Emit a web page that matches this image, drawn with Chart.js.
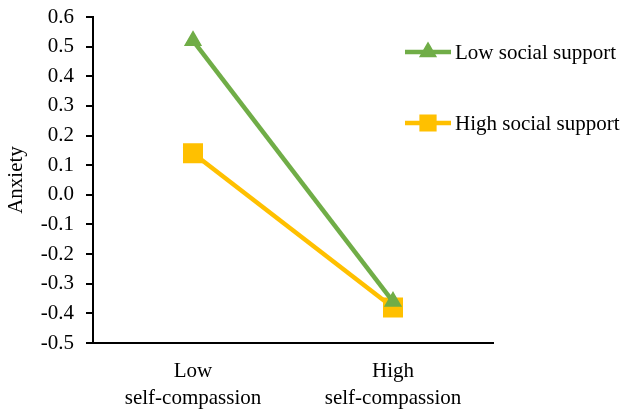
<!DOCTYPE html>
<html>
<head>
<meta charset="utf-8">
<script src="https://cdn.jsdelivr.net/npm/chart.js@4"></script>
<style>
  html, body { margin: 0; padding: 0; background: #fff; }
  #wrap { width: 628px; height: 411px; }
</style>
</head>
<body>
<div id="wrap"><canvas id="chart"></canvas></div>
<script>
// Data
var categories = [['Low', 'self-compassion'], ['High', 'self-compassion']];
var lowSupport = [0.52, -0.36];
var highSupport = [0.14, -0.38];
var seriesNames = ['Low social support', 'High social support'];

var FONT = '"Liberation Serif", "Times New Roman", serif';
var GREEN = '#70AD47';
var GOLD = '#FFC000';

// Draw the legend as in the original (overlapping the right side of the plot)
var legendPlugin = {
    id: 'sideLegend',
    afterDraw: function(chart) {
        var ctx = chart.ctx;
        var rows = [52, 123];
        chart.data.datasets.forEach(function(ds, i) {
            var y = rows[i];
            ctx.save();
            ctx.strokeStyle = ds.borderColor;
            ctx.lineWidth = 4.5;
            ctx.beginPath();
            ctx.moveTo(405, y);
            ctx.lineTo(451, y);
            ctx.stroke();
            Chart.helpers.drawPoint(ctx, {
                pointStyle: ds.pointStyle,
                radius: ds.pointStyle === 'rect' ? 9 : 6,
                borderWidth: 1
            }, 428, y);
            ctx.fillStyle = ds.borderColor;
            ctx.fill();
            ctx.fillStyle = '#000';
            ctx.font = '21px ' + FONT;
            ctx.textBaseline = 'middle';
            ctx.fillText(ds.label, 455, y + 1);
            ctx.restore();
        });
    }
};

new Chart(document.getElementById('chart'), {
    type: 'line',
    data: {
        labels: categories,
        datasets: [{
            label: seriesNames[0],
            data: lowSupport,
            borderColor: GREEN,
            backgroundColor: GREEN,
            borderWidth: 4.5,
            pointStyle: 'triangle',
            pointRadius: 6,
            pointHoverRadius: 6
        }, {
            label: seriesNames[1],
            data: highSupport,
            borderColor: GOLD,
            backgroundColor: GOLD,
            borderWidth: 4.5,
            pointStyle: 'rect',
            pointRadius: 11,
            pointHoverRadius: 11
        }]
    },
    options: {
        responsive: true,
        maintainAspectRatio: false,
        animation: false,
        layout: { padding: { top: 17, right: 135, left: 0, bottom: 0 } },
        plugins: {
            legend: { display: false },
            tooltip: { enabled: false }
        },
        scales: {
            x: {
                offset: true,
                afterFit: function(scale) {
                    scale.height = 68;
                    scale.paddingLeft = 0;
                    scale.paddingRight = 0;
                },
                grid: { display: false, drawTicks: false },
                border: { color: '#000', width: 2 },
                ticks: {
                    color: '#000',
                    padding: 15,
                    font: { family: FONT, size: 21, lineHeight: 1.3 }
                }
            },
            y: {
                min: -0.5,
                max: 0.6,
                afterFit: function(scale) {
                    scale.width = 93;
                    scale.paddingTop = 0;
                    scale.paddingBottom = 0;
                },
                grid: { drawOnChartArea: false, color: '#000', tickLength: 7, lineWidth: 2 },
                border: { color: '#000', width: 2 },
                ticks: {
                    stepSize: 0.1,
                    color: '#000',
                    padding: 12,
                    font: { family: FONT, size: 21 },
                    callback: function(v) { return (Math.round(v * 10) / 10).toFixed(1); }
                },
                title: {
                    display: true,
                    text: 'Anxiety',
                    color: '#000',
                    padding: 4,
                    font: { family: FONT, size: 21 }
                }
            }
        }
    },
    plugins: [legendPlugin]
});
</script>
</body>
</html>
